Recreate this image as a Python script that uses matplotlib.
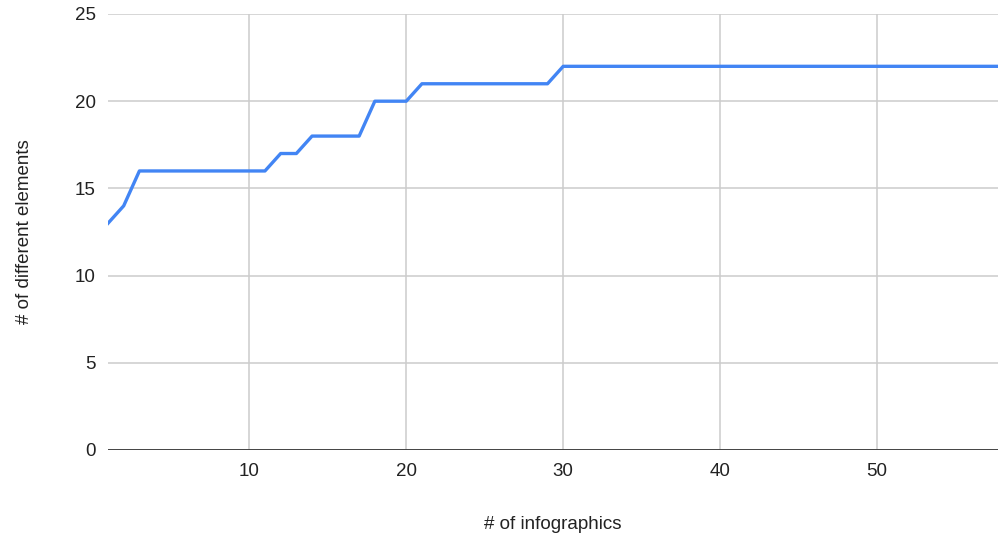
import numpy as np
import matplotlib
matplotlib.use("Agg")
import matplotlib.pyplot as plt

plt.rcParams['font.family'] = ['Liberation Sans', 'DejaVu Sans']

# cumulative count of distinct elements after each infographic
n_infographics = list(range(1, 59))
n_elements = ([13, 14] + [16] * 9 + [17, 17] + [18] * 4 + [20] * 3
              + [21] * 9 + [22] * 29)

x_ticks = [10, 20, 30, 40, 50]
y_ticks = [0, 5, 10, 15, 20, 25]

fig = plt.figure(figsize=(9.98, 5.39), dpi=100)
W, H = 998, 539
ax = fig.add_axes([108 / W, (H - 450) / H, 1 - 108 / W, (450 - 14) / H])

ax.plot(n_infographics, n_elements, color="#4285F4", lw=2.4,
        solid_joinstyle="round", clip_on=True, zorder=3)

ax.set_xlim(1, 57.7)
ax.set_ylim(0, 25)
ax.set_xticks(x_ticks)
ax.set_yticks(y_ticks)
ax.grid(True, color="#cccccc", lw=1.1)
ax.set_axisbelow(True)
for s in ax.spines.values():
    s.set_visible(False)
ax.axhline(0, color="#444444", lw=1.4, zorder=2)
ax.tick_params(length=0, labelsize=13.5, labelcolor="#222222")
ax.tick_params(axis="x", pad=9.5)
ax.tick_params(axis="y", pad=9)

ax.set_xlabel("# of infographics", fontsize=13.5, color="#222222", labelpad=26)
ax.set_ylabel("# of different elements", fontsize=13.5, color="#222222", labelpad=30)

fig.savefig("out.png", dpi=100)
